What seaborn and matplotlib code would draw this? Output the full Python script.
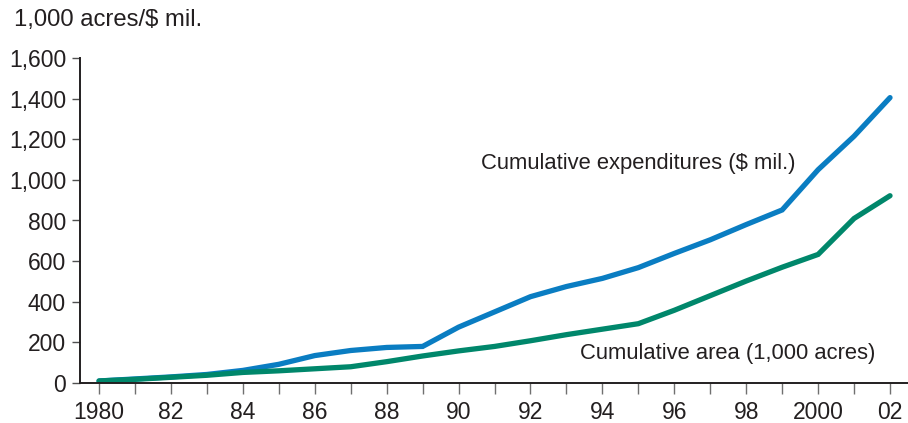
import numpy as np
import pandas as pd
import matplotlib
matplotlib.use("Agg")
import matplotlib.pyplot as plt
import seaborn as sns

years = list(range(1980, 2003))
expenditures = [10, 20, 30, 42, 62, 92, 135, 160, 175, 180, 275, 350, 425, 475,
                515, 568, 638, 705, 780, 852, 1050, 1215, 1405]
area = [10, 18, 28, 38, 52, 60, 70, 80, 105, 133, 158, 180, 208, 238,
        265, 292, 358, 430, 502, 570, 633, 810, 922]
tick_years = list(range(1980, 2003, 2))
tick_labels = ["1980", "82", "84", "86", "88", "90", "92", "94", "96", "98", "2000", "02"]
y_ticks = list(range(0, 1601, 200))

df = pd.DataFrame({
    "year": years * 2,
    "value": expenditures + area,
    "series": ["exp"] * len(years) + ["area"] * len(years),
})

sns.set_theme(style="white")
plt.rcParams["font.family"] = ["Liberation Sans", "DejaVu Sans"]
text_color = "#231f20"

fig = plt.figure(figsize=(9.08, 4.23), dpi=100)
ax = fig.add_axes([80 / 908, 40 / 423, 828 / 908, (383 - 58) / 423])

sns.lineplot(data=df, x="year", y="value", hue="series",
             palette={"exp": "#0a7dc2", "area": "#00876b"},
             linewidth=3.8, legend=False, ax=ax, solid_joinstyle="miter")

ax.set_xlim(1979.47, 2002.5)
ax.set_ylim(0, 1600)
ax.set_xlabel("")
ax.set_ylabel("")

ax.set_xticks(tick_years)
ax.set_xticklabels(tick_labels)
ax.set_xticks(list(range(1981, 2003, 2)), minor=True)
ax.set_yticks(y_ticks)
ax.set_yticklabels([f"{v:,}" for v in y_ticks])

for side in ["top", "right"]:
    ax.spines[side].set_visible(False)
for side in ["left", "bottom"]:
    ax.spines[side].set_color(text_color)
    ax.spines[side].set_linewidth(1.4)

ax.tick_params(axis="x", which="both", direction="out", length=8, width=1,
               color="#707070", pad=5, labelsize=16.5, labelcolor=text_color,
               bottom=True)
ax.tick_params(axis="y", direction="out", length=6, width=1, color="#505050",
               pad=4, labelsize=16.5, labelcolor=text_color, left=True)

ax.text(1990.61, 1083, "Cumulative expenditures ($ mil.)", fontsize=15.8,
        color=text_color, ha="left", va="center")
ax.text(1993.39, 143, "Cumulative area (1,000 acres)", fontsize=15.8,
        color=text_color, ha="left", va="center")
fig.text(14 / 908, 1 - 20 / 423, "1,000 acres/$ mil.", fontsize=17.2,
         color=text_color, ha="left", va="center")

fig.savefig("out.png", dpi=100)
